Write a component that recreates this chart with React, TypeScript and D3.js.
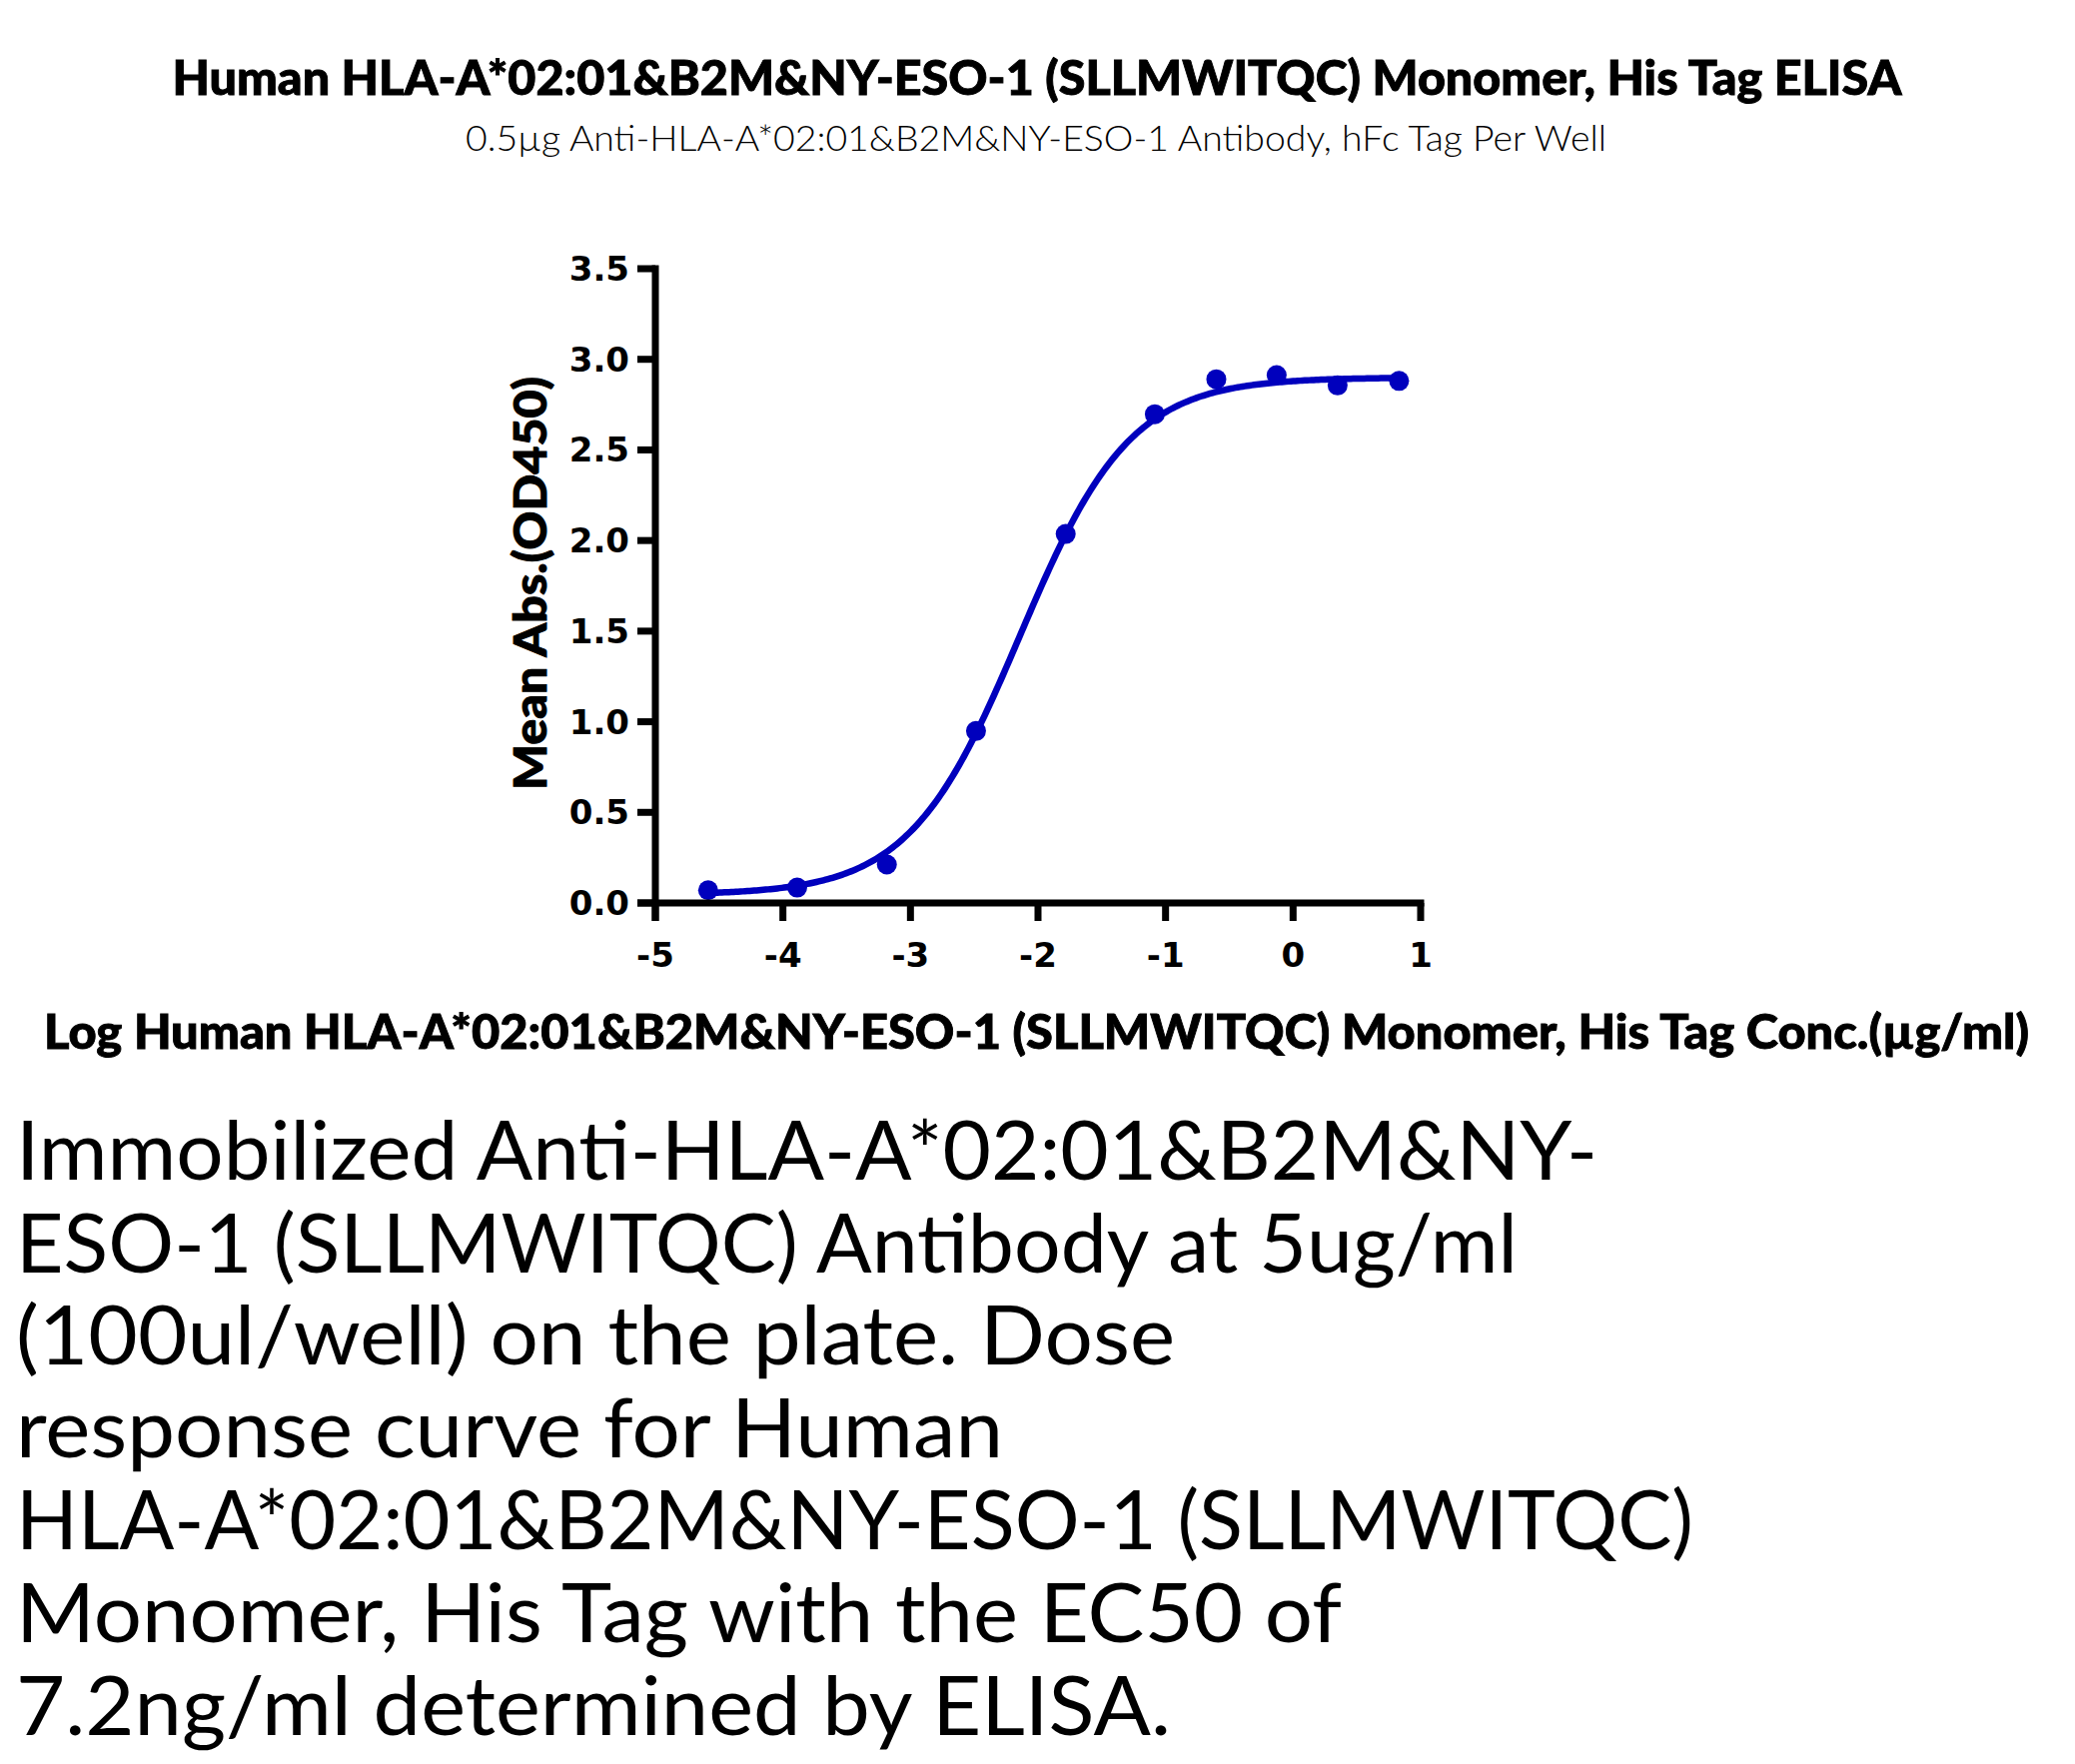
import React from "react";
import * as d3 from "d3";

const titleText = "Human HLA-A*02:01&B2M&NY-ESO-1 (SLLMWITQC) Monomer, His Tag ELISA";
const subtitleText = "0.5µg Anti-HLA-A*02:01&B2M&NY-ESO-1 Antibody, hFc Tag Per Well";
const xLabelText = "Log Human HLA-A*02:01&B2M&NY-ESO-1 (SLLMWITQC) Monomer, His Tag Conc.(µg/ml)";
const yLabelText = "Mean Abs.(OD450)";

const logConc = [-4.586, -3.888, -3.185, -2.486, -1.783, -1.084, -0.602, -0.129, 0.349, 0.831];
const meanOD = [0.07, 0.085, 0.212, 0.949, 2.036, 2.697, 2.89, 2.913, 2.856, 2.881];

// 4PL fit parameters (EC50 = 7.2 ng/ml)
const fitBottom = 0.045;
const fitTop = 2.9;
const fitLogEC50 = -2.143;
const fitHill = 1.0;

const xTicks = [-5, -4, -3, -2, -1, 0, 1];
const yTicks = [0, 0.5, 1.0, 1.5, 2.0, 2.5, 3.0, 3.5];

const paragraphLines = [
  "Immobilized Anti-HLA-A*02:01&B2M&NY-",
  "ESO-1 (SLLMWITQC) Antibody at 5ug/ml",
  "(100ul/well) on the plate. Dose",
  "response curve for Human",
  "HLA-A*02:01&B2M&NY-ESO-1 (SLLMWITQC)",
  "Monomer, His Tag with the EC50 of",
  "7.2ng/ml determined by ELISA.",
];

// layout: rendered width of each paragraph line (px)
const paragraphWidths = [1583, 1503, 1160, 988, 1679, 1327, 1156];

const BLUE = "#0000bd";

export default function App() {
  const x = d3.scaleLinear().domain([-5, 1]).range([656, 1422]);
  const y = d3.scaleLinear().domain([0, 3.5]).range([904, 269]);

  const fit = (lx: number) =>
    fitBottom + (fitTop - fitBottom) / (1 + Math.pow(10, (fitLogEC50 - lx) * fitHill));

  const x0 = d3.min(logConc) as number;
  const x1 = d3.max(logConc) as number;
  const curvePts: [number, number][] = d3.range(0, 301).map((i) => {
    const lx = x0 + ((x1 - x0) * i) / 300;
    return [lx, fit(lx)];
  });
  const line = d3
    .line<[number, number]>()
    .x((d) => x(d[0]))
    .y((d) => y(d[1]))
    .curve(d3.curveLinear);

  const axisW = 7;
  const tickLen = 18;
  const tickFont = "'DejaVu Sans', sans-serif";

  return (
    <svg
      width={2077}
      height={1766}
      style={{ position: "absolute", left: 0, top: 0, background: "#fff" }}
      xmlns="http://www.w3.org/2000/svg"
    >
      <rect x={0} y={0} width={2077} height={1766} fill="#fff" />
      <text
        x={1038}
        y={95}
        textAnchor="middle"
        fontFamily="Lato, sans-serif"
        fontWeight={900}
        fontSize={48}
        textLength={1731}
        lengthAdjust="spacingAndGlyphs"
        fill="#000"
        stroke="#000"
        strokeWidth={0.9}
      >
        {titleText}
      </text>
      <text
        x={1037}
        y={151}
        textAnchor="middle"
        fontFamily="Lato, sans-serif"
        fontWeight={300}
        fontSize={35}
        textLength={1142}
        lengthAdjust="spacingAndGlyphs"
        fill="#000"
      >
        {subtitleText}
      </text>

      {/* curve */}
      <path d={line(curvePts) || ""} fill="none" stroke={BLUE} strokeWidth={6.5} />
      {logConc.map((lx, i) => (
        <circle key={i} cx={x(lx)} cy={y(meanOD[i])} r={10} fill={BLUE} />
      ))}

      {/* y axis */}
      <line
        x1={x(-5)}
        x2={x(-5)}
        y1={y(3.5) - axisW / 2}
        y2={y(0) + tickLen}
        stroke="#000"
        strokeWidth={axisW}
      />
      {yTicks.map((t) => (
        <g key={"y" + t}>
          <line
            x1={x(-5) - tickLen}
            x2={x(-5)}
            y1={y(t)}
            y2={y(t)}
            stroke="#000"
            strokeWidth={axisW}
          />
          <text
            x={x(-5) - 26}
            y={y(t) + 12}
            textAnchor="end"
            fontFamily={tickFont}
            fontWeight={700}
            fontSize={34}
            fill="#000"
          >
            {t.toFixed(1)}
          </text>
        </g>
      ))}

      {/* x axis */}
      <line
        x1={x(-5) - tickLen}
        x2={x(1) + axisW / 2}
        y1={y(0)}
        y2={y(0)}
        stroke="#000"
        strokeWidth={axisW}
      />
      {xTicks.map((t) => (
        <g key={"x" + t}>
          <line
            x1={x(t)}
            x2={x(t)}
            y1={y(0)}
            y2={y(0) + tickLen}
            stroke="#000"
            strokeWidth={axisW}
          />
          <text
            x={x(t)}
            y={968}
            textAnchor="middle"
            fontFamily={tickFont}
            fontWeight={700}
            fontSize={34}
            fill="#000"
          >
            {String(t)}
          </text>
        </g>
      ))}

      <text
        x={1037.5}
        y={1050}
        textAnchor="middle"
        fontFamily="Lato, sans-serif"
        fontWeight={900}
        fontSize={48}
        textLength={1987}
        lengthAdjust="spacingAndGlyphs"
        fill="#000"
        stroke="#000"
        strokeWidth={0.9}
      >
        {xLabelText}
      </text>
      <text
        transform="translate(547,584) rotate(-90)"
        textAnchor="middle"
        fontFamily="Lato, sans-serif"
        fontWeight={900}
        fontSize={46}
        textLength={414}
        lengthAdjust="spacingAndGlyphs"
        fill="#000"
        stroke="#000"
        strokeWidth={0.9}
      >
        {yLabelText}
      </text>

      {paragraphLines.map((s, i) => (
        <text
          key={i}
          x={16}
          y={1181 + i * 92.6}
          fontFamily="Lato, sans-serif"
          fontWeight={400}
          fontSize={81}
          textLength={paragraphWidths[i]}
          lengthAdjust="spacingAndGlyphs"
          fill="#000"
        >
          {s}
        </text>
      ))}
    </svg>
  );
}
